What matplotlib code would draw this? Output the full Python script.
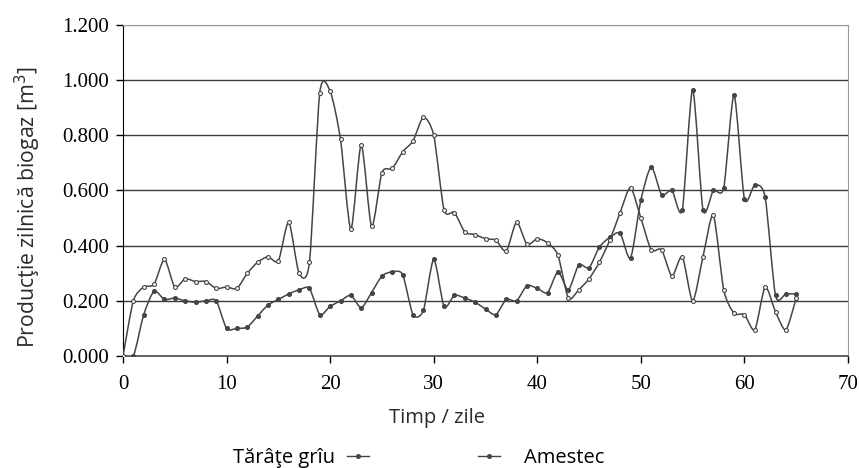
import matplotlib
matplotlib.use('Agg')
import matplotlib.pyplot as plt
import numpy as np
from matplotlib.path import Path
from matplotlib.patches import PathPatch
from matplotlib.lines import Line2D
from matplotlib.ticker import FormatStrFormatter

# daily biogas production, days 0..65
days = np.arange(0, 66)
tarate_griu = [0.0, 0.0, 0.15, 0.235, 0.205, 0.21, 0.20, 0.195, 0.20, 0.20,
               0.10, 0.10, 0.105, 0.145, 0.185, 0.205, 0.225, 0.24, 0.245, 0.15,
               0.18, 0.20, 0.22, 0.175, 0.23, 0.29, 0.305, 0.295, 0.15, 0.165,
               0.35, 0.18, 0.22, 0.21, 0.195, 0.17, 0.15, 0.205, 0.20, 0.255,
               0.245, 0.23, 0.305, 0.24, 0.33, 0.32, 0.395, 0.43, 0.445, 0.355,
               0.565, 0.685, 0.585, 0.60, 0.53, 0.965, 0.53, 0.60, 0.61, 0.945,
               0.57, 0.62, 0.575, 0.22, 0.225, 0.225]
amestec = [0.0, 0.20, 0.25, 0.26, 0.35, 0.25, 0.28, 0.27, 0.27, 0.245,
           0.25, 0.245, 0.30, 0.34, 0.36, 0.345, 0.485, 0.30, 0.34, 0.955,
           0.96, 0.785, 0.46, 0.765, 0.47, 0.665, 0.68, 0.74, 0.78, 0.865,
           0.80, 0.53, 0.52, 0.45, 0.44, 0.425, 0.42, 0.38, 0.485, 0.405,
           0.425, 0.41, 0.365, 0.21, 0.24, 0.28, 0.34, 0.42, 0.52, 0.61,
           0.50, 0.385, 0.385, 0.29, 0.36, 0.20, 0.36, 0.51, 0.24, 0.155,
           0.15, 0.095, 0.25, 0.16, 0.095, 0.21]

xticks = [0, 10, 20, 30, 40, 50, 60, 70]
yticks = [0.0, 0.2, 0.4, 0.6, 0.8, 1.0, 1.2]

line_col = '#454545'


def smooth_path(x, y, k=8.0):
    # Bezier smoothed line through the points (Catmull-Rom style handles)
    p = np.column_stack([x, y]).astype(float)
    n = len(p)
    verts = [p[0]]
    codes = [Path.MOVETO]
    for i in range(n - 1):
        p0 = p[i - 1] if i > 0 else p[i]
        p3 = p[i + 2] if i + 2 < n else p[i + 1]
        c1 = p[i] + (p[i + 1] - p0) / k
        c2 = p[i + 1] - (p3 - p[i]) / k
        verts += [c1, c2, p[i + 1]]
        codes += [Path.CURVE4] * 3
    return Path(verts, codes)


fig = plt.figure(figsize=(8.59, 4.68), dpi=100)
ax = fig.add_axes([0.1432, 0.2393, 0.8440, 0.7073])

for yt in yticks[1:]:
    ax.axhline(yt, color='#3c3c3c' if yt < 1.2 else '#9a9a9a', lw=1.0, zorder=1)

for series, mfc in [(tarate_griu, line_col), (amestec, 'white')]:
    ax.add_patch(PathPatch(smooth_path(days, series), fill=False,
                           edgecolor=line_col, lw=1.1, zorder=3))
    ax.plot(days, series, linestyle='none', marker='o', ms=2.8,
            mfc=mfc, mec=line_col, mew=0.8, zorder=4)

ax.set_xlim(0, 70)
ax.set_ylim(0, 1.2)
ax.set_xticks(xticks)
ax.set_yticks(yticks)
ax.yaxis.set_major_formatter(FormatStrFormatter('%.3f'))
ax.tick_params(direction='out', length=5, width=1, colors='black',
               labelsize=15)
ax.tick_params(axis='x', pad=9)
ax.tick_params(axis='y', pad=5)
for lab in ax.get_xticklabels() + ax.get_yticklabels():
    lab.set_fontfamily('Liberation Serif')

ax.spines['left'].set_color('black')
ax.spines['bottom'].set_color('#555555')
ax.spines['bottom'].set_linewidth(1.3)
ax.spines['top'].set_color('#9a9a9a')
ax.spines['right'].set_color('#9a9a9a')

ax.set_ylabel('Producţie zilnică biogaz [m$^3$]', fontsize=15.3,
              family='Open Sans', color='#2a2a2a')
ax.yaxis.set_label_coords(-0.11, 0.45)
fig.text(437 / 859, 1 - 418 / 468, 'Timp / zile', fontsize=14.5,
         family='Open Sans', color='#2a2a2a', ha='center', va='center')

# legend along the bottom
h = Line2D([], [], color=line_col, lw=1.0, marker='o', ms=2.6,
           mfc=line_col, mec=line_col)
fig.legend([h], ['Tărâţe grîu'], loc='center', markerfirst=False,
           bbox_to_anchor=(301 / 859, 1 - 458 / 468), frameon=False,
           handlelength=1.1, handletextpad=0.6,
           prop={'family': 'Open Sans', 'size': 14.5})
fig.legend([h], ['Amestec'], loc='center',
           bbox_to_anchor=(541 / 859, 1 - 458 / 468), frameon=False,
           handlelength=1.1, handletextpad=1.2,
           prop={'family': 'Open Sans', 'size': 14.5})

fig.savefig('out.png', dpi=100, facecolor='white')
